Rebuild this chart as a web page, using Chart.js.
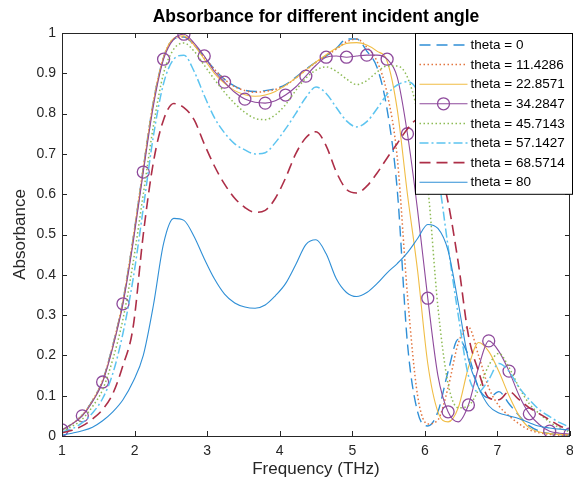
<!DOCTYPE html>
<html>
<head>
<meta charset="utf-8">
<title>Absorbance for different incident angle</title>
<script src="https://cdn.jsdelivr.net/npm/chart.js@4.4.1/dist/chart.umd.min.js"></script>
<style>
  html, body { margin: 0; padding: 0; background: #fff; }
  #wrap { width: 573px; height: 484px; position: relative; }
</style>
</head>
<body>
<div id="wrap"><canvas id="absChart"></canvas></div>
<script>
// Частота, THz (шаг 0.14)
const freq = [
  1.00, 1.14, 1.28, 1.42, 1.56, 1.70, 1.84, 1.98, 2.12, 2.26,
  2.40, 2.54, 2.68, 2.82, 2.96, 3.10, 3.24, 3.38, 3.52, 3.66,
  3.80, 3.94, 4.08, 4.22, 4.36, 4.50, 4.64, 4.78, 4.92, 5.06,
  5.20, 5.34, 5.48, 5.62, 5.76, 5.90, 6.04, 6.18, 6.32, 6.46,
  6.60, 6.74, 6.88, 7.02, 7.16, 7.30, 7.44, 7.58, 7.72, 7.86, 8.00
];

const thetaLabels = [
  'theta = 0', 'theta = 11.4286', 'theta = 22.8571', 'theta = 34.2847',
  'theta = 45.7143', 'theta = 57.1427', 'theta = 68.5714', 'theta = 80'
];

// Поглощение для каждого угла
const abs0 = [
  0.015, 0.03, 0.052, 0.088, 0.138, 0.225, 0.335, 0.49, 0.665, 0.83,
  0.94, 0.985, 0.99, 0.97, 0.94, 0.91, 0.885, 0.868, 0.858, 0.855,
  0.857, 0.862, 0.872, 0.89, 0.91, 0.928, 0.943, 0.962, 0.985, 0.985,
  0.955, 0.915, 0.81, 0.61, 0.23, 0.06, 0.025, 0.06, 0.16, 0.24,
  0.2, 0.12, 0.095, 0.11, 0.08, 0.05, 0.025, 0.012, 0.006, 0.003, 0.002
];
const abs11 = [
  0.015, 0.03, 0.052, 0.088, 0.138, 0.225, 0.335, 0.49, 0.665, 0.83,
  0.94, 0.985, 0.99, 0.97, 0.94, 0.91, 0.885, 0.867, 0.857, 0.853,
  0.855, 0.86, 0.87, 0.888, 0.908, 0.927, 0.943, 0.96, 0.978, 0.985,
  0.965, 0.93, 0.85, 0.69, 0.35, 0.1, 0.03, 0.04, 0.12, 0.23,
  0.27, 0.2, 0.12, 0.075, 0.05, 0.03, 0.015, 0.008, 0.004, 0.002, 0.001
];
const abs22 = [
  0.015, 0.03, 0.051, 0.087, 0.136, 0.222, 0.332, 0.487, 0.662, 0.828,
  0.94, 0.987, 0.993, 0.97, 0.935, 0.9, 0.875, 0.857, 0.847, 0.843,
  0.846, 0.855, 0.87, 0.888, 0.908, 0.928, 0.946, 0.962, 0.974, 0.976,
  0.97, 0.955, 0.93, 0.81, 0.6, 0.41, 0.18, 0.06, 0.035, 0.07,
  0.17, 0.232, 0.21, 0.16, 0.1, 0.05, 0.02, 0.01, 0.006, 0.004, 0.003
];
const abs34 = [
  0.015, 0.03, 0.05, 0.085, 0.134, 0.22, 0.328, 0.48, 0.655, 0.82,
  0.935, 0.985, 0.997, 0.975, 0.943, 0.905, 0.878, 0.853, 0.836, 0.828,
  0.826, 0.832, 0.846, 0.866, 0.893, 0.92, 0.94, 0.943, 0.94, 0.943,
  0.945, 0.945, 0.935, 0.89, 0.75, 0.56, 0.342, 0.15, 0.06, 0.035,
  0.077, 0.17, 0.236, 0.21, 0.161, 0.1, 0.055, 0.028, 0.012, 0.007, 0.005
];
const abs45 = [
  0.012, 0.024, 0.042, 0.073, 0.115, 0.19, 0.29, 0.43, 0.6, 0.77,
  0.9, 0.96, 0.975, 0.955, 0.92, 0.885, 0.853, 0.825, 0.803, 0.788,
  0.785, 0.797, 0.822, 0.857, 0.888, 0.908, 0.916, 0.905, 0.886, 0.872,
  0.882, 0.903, 0.918, 0.918, 0.89, 0.8, 0.62, 0.32, 0.13, 0.07,
  0.075, 0.115, 0.175, 0.205, 0.17, 0.12, 0.08, 0.055, 0.035, 0.02, 0.01
];
const abs57 = [
  0.01, 0.018, 0.033, 0.057, 0.093, 0.155, 0.255, 0.39, 0.565, 0.745,
  0.875, 0.935, 0.945, 0.905, 0.845, 0.79, 0.752, 0.725, 0.71, 0.7,
  0.703, 0.728, 0.762, 0.8, 0.84, 0.866, 0.85, 0.815, 0.782, 0.767,
  0.78, 0.812, 0.848, 0.871, 0.879, 0.855, 0.77, 0.65, 0.47, 0.3,
  0.15, 0.11, 0.14, 0.18, 0.16, 0.12, 0.09, 0.065, 0.048, 0.033, 0.022
];
const abs68 = [
  0.008, 0.014, 0.025, 0.042, 0.066, 0.105, 0.175, 0.27, 0.5, 0.68,
  0.785, 0.825, 0.815, 0.785, 0.725, 0.67, 0.625, 0.59, 0.567, 0.555,
  0.56, 0.59, 0.64, 0.7, 0.74, 0.755, 0.72, 0.655, 0.612, 0.603,
  0.62, 0.652, 0.69, 0.726, 0.762, 0.785, 0.76, 0.68, 0.58, 0.43,
  0.25, 0.16, 0.095, 0.09, 0.11, 0.09, 0.07, 0.055, 0.04, 0.025, 0.015
];
const abs80 = [
  0.002, 0.007, 0.013, 0.022, 0.038, 0.06, 0.09, 0.135, 0.2, 0.325,
  0.478, 0.54, 0.535, 0.495, 0.44, 0.39, 0.352, 0.33, 0.32, 0.317,
  0.325, 0.348, 0.378, 0.425, 0.475, 0.487, 0.452, 0.39, 0.356, 0.346,
  0.356, 0.378, 0.405, 0.428, 0.455, 0.49, 0.525, 0.515, 0.46, 0.33,
  0.19, 0.12, 0.075, 0.057, 0.05, 0.043, 0.033, 0.024, 0.02, 0.017, 0.015
];

const FONT = '"Liberation Sans", Arial, Helvetica, sans-serif';
const AXIS_COLOR = '#262626';

// Стили линий (как в MATLAB: --, :, -, -o, :, -., --, -)
const DASHED = [11, 6];
const DOTTED = [1.5, 2.5];
const DASHDOT = [9, 3, 2, 3];

const seriesValues = [abs0, abs11, abs22, abs34, abs45, abs57, abs68, abs80];
const seriesStyle = [
  { color: '#2f8fd6', dash: DASHED, width: 1.4 },
  { color: '#e2753f', dash: DOTTED, width: 1.5 },
  { color: '#f0bd45', dash: [], width: 1.1 },
  { color: '#8e4a9c', dash: [], width: 1.1, marker: true },
  { color: '#8dbb55', dash: DOTTED, width: 1.5 },
  { color: '#5cc4f0', dash: DASHDOT, width: 1.5 },
  { color: '#ad2e47', dash: DASHED, width: 1.6 },
  { color: '#2f8fd6', dash: [], width: 1.1 }
];

const datasets = seriesValues.map((vals, i) => {
  const st = seriesStyle[i];
  return {
    label: thetaLabels[i],
    data: vals.map((v, k) => ({ x: freq[k], y: v })),
    borderColor: st.color,
    borderWidth: st.width,
    borderDash: st.dash,
    backgroundColor: 'rgba(0,0,0,0)',
    fill: false,
    cubicInterpolationMode: 'monotone',
    pointRadius: st.marker ? (ctx => (ctx.dataIndex % 2 === 0 ? 6 : 0)) : 0,
    pointHoverRadius: 0,
    pointBorderColor: st.color,
    pointBorderWidth: 1.3,
    pointBackgroundColor: 'rgba(0,0,0,0)',
    order: seriesValues.length - i,
    isMarked: !!st.marker
  };
});

// Рамка осей с тиками внутрь + легенда внутри графика
const frameAndLegend = {
  id: 'frameAndLegend',
  afterDatasetsDraw(chart) {
    const { ctx, chartArea: a, scales: { x, y } } = chart;
    ctx.save();
    ctx.strokeStyle = AXIS_COLOR;
    ctx.lineWidth = 1;
    ctx.setLineDash([]);
    ctx.beginPath();
    x.ticks.forEach(t => {
      const px = Math.round(x.getPixelForValue(t.value)) + 0.5;
      ctx.moveTo(px, a.bottom); ctx.lineTo(px, a.bottom - 5);
      ctx.moveTo(px, a.top); ctx.lineTo(px, a.top + 5);
    });
    y.ticks.forEach(t => {
      const py = Math.round(y.getPixelForValue(t.value)) + 0.5;
      ctx.moveTo(a.left, py); ctx.lineTo(a.left + 5, py);
      ctx.moveTo(a.right, py); ctx.lineTo(a.right - 5, py);
    });
    ctx.stroke();
    ctx.strokeRect(a.left + 0.5, a.top + 0.5, a.right - a.left - 1, a.bottom - a.top);

    // Легенда
    const lw = 157, rowH = 19.6;
    const lx = a.right - 155 + 0.5, ly = a.top + 0.5;
    const lh = rowH * datasets.length + 4;
    ctx.fillStyle = '#fff';
    ctx.fillRect(lx, ly, lw, lh);
    ctx.strokeStyle = '#000';
    ctx.strokeRect(lx, ly, lw, lh);

    ctx.font = '13.5px ' + FONT;
    ctx.textBaseline = 'middle';
    ctx.textAlign = 'left';
    chart.data.datasets.forEach((ds, i) => {
      const cy = ly + 11.5 + i * rowH;
      const x0 = lx + 4, x1 = lx + 52;
      ctx.strokeStyle = ds.borderColor;
      ctx.lineWidth = ds.borderWidth;
      ctx.setLineDash(ds.borderDash);
      ctx.beginPath();
      ctx.moveTo(x0, cy); ctx.lineTo(x1, cy);
      ctx.stroke();
      ctx.setLineDash([]);
      if (ds.isMarked) {
        ctx.lineWidth = 1.3;
        ctx.beginPath();
        ctx.arc((x0 + x1) / 2, cy, 6, 0, Math.PI * 2);
        ctx.stroke();
      }
      ctx.fillStyle = '#000';
      ctx.fillText(ds.label, lx + 55, cy + 0.5);
    });
    ctx.restore();
  }
};

const chart = new Chart(document.getElementById('absChart'), {
  type: 'line',
  data: { datasets },
  options: {
    responsive: true,
    maintainAspectRatio: false,
    animation: false,
    devicePixelRatio: 1,
    events: [],
    layout: { autoPadding: false, padding: { left: 0, right: 3, top: 0, bottom: 0 } },
    plugins: {
      legend: { display: false },
      tooltip: { enabled: false },
      title: {
        display: true,
        fullSize: false,
        text: 'Absorbance for different incident angle',
        color: '#000',
        font: { family: FONT, size: 17.5, weight: 'bold' },
        padding: { top: 7, bottom: 5 }
      }
    },
    scales: {
      x: {
        type: 'linear',
        min: 1,
        max: 8,
        grid: { display: false, drawTicks: false },
        border: { display: false },
        ticks: {
          stepSize: 1,
          color: AXIS_COLOR,
          padding: 7,
          font: { family: FONT, size: 14 },
          maxRotation: 0
        },
        title: {
          display: true,
          text: 'Frequency (THz)',
          color: AXIS_COLOR,
          font: { family: FONT, size: 17 },
          padding: { top: 0, bottom: 4 }
        },
        afterFit: scale => {
          scale.height = 48;
          scale.paddingLeft = 0;
          scale.paddingRight = 0;
        }
      },
      y: {
        min: 0,
        max: 1,
        grid: { display: false, drawTicks: false },
        border: { display: false },
        ticks: {
          stepSize: 0.1,
          color: AXIS_COLOR,
          padding: 6,
          font: { family: FONT, size: 14 },
          callback: v => String(Math.round(v * 10) / 10)
        },
        title: {
          display: true,
          text: 'Absorbance',
          color: AXIS_COLOR,
          font: { family: FONT, size: 17 },
          padding: { top: 10, bottom: 0 }
        },
        afterFit: scale => {
          scale.width = 62;
          scale.paddingTop = 0;
          scale.paddingBottom = 0;
        }
      }
    }
  },
  plugins: [frameAndLegend]
});
</script>
</body>
</html>
